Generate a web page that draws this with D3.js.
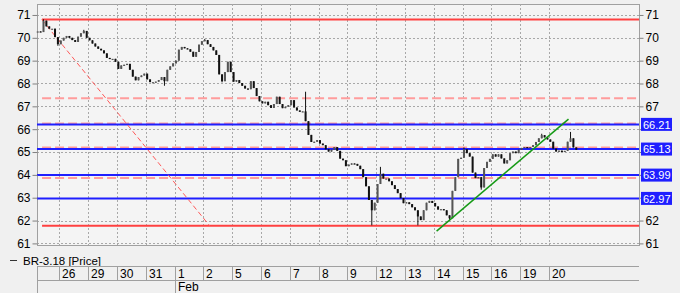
<!DOCTYPE html>
<html>
<head>
<meta charset="utf-8">
<script src="https://cdn.jsdelivr.net/npm/d3@7"></script>
<style>
  html, body { margin: 0; padding: 0; background: #f0f0f0; }
  svg { display: block; font-family: 'Liberation Sans', Arial, sans-serif; }
</style>
</head>
<body>
<div id="chart"></div>
<script>
// trading days shown on the axis, first one is only partly visible
const days = ['', '26', '29', '30', '31', '1', '2', '5', '6', '7', '8', '9', '12', '13', '14', '15', '16', '19', '20'];
const barsPerDay = [8, 10, 10, 10, 10, 10, 10, 10, 10, 10, 10, 10, 10, 10, 10, 10, 10, 10, 10];

// closing prices, one per intraday bar
const closes = [
  70.28, 70.25, 70.75, 70.5, 70.4, 70.4, 70.03, 69.72,
  69.88, 70.0, 70.08, 70.0, 69.9, 69.82, 70.05, 70.2, 70.3, 70.0,
  69.89, 69.75, 69.62, 69.52, 69.45, 69.32, 69.12, 69.08, 69.08, 68.95,
  68.64, 68.79, 68.82, 68.86, 68.6, 68.3, 68.14, 68.28, 68.35, 68.43,
  68.18, 68.06, 68.06, 68.08, 68.15, 68.28, 68.1, 68.6, 68.75, 68.88,
  69.0, 69.48, 69.6, 69.54, 69.5, 69.39, 69.17, 69.38, 69.7, 69.85,
  69.9, 69.72, 69.6, 69.45, 69.25, 68.4, 68.1, 68.5, 68.95, 68.5,
  68.08, 68.15, 68.02, 67.9, 67.78, 67.75, 68.1, 67.8, 67.45, 67.22,
  67.13, 67.2, 67.05, 66.93, 67.1, 67.42, 67.1, 66.92, 66.98, 67.05,
  67.27, 66.95, 66.82, 66.76, 66.78, 66.35, 65.75, 65.44, 65.45, 65.52,
  65.37, 65.3, 65.12, 65.02, 65.1, 65.22, 65.05, 64.71, 64.64, 64.38,
  64.45, 64.5, 64.48, 64.4, 64.25, 63.9, 63.5, 62.9, 62.45, 62.78,
  63.6, 64.05, 63.84, 63.84, 63.72, 63.55, 63.38, 63.2, 62.98, 62.76,
  62.8, 62.72, 62.58, 62.45, 62.18, 62.02, 62.45, 62.78, 62.86, 62.77,
  62.62, 62.48, 62.5, 62.45, 62.23, 62.1, 63.3, 63.9, 64.7, 64.75,
  65.12, 64.95, 64.8, 64.1, 63.86, 63.9, 63.45, 64.3, 64.57, 64.7,
  64.9, 64.8, 64.9, 64.72, 64.5, 64.64, 64.95, 65.02, 64.95, 65.1,
  65.18, 65.22, 65.18, 65.22, 65.3, 65.44, 65.6, 65.74, 65.64, 65.55,
  65.45, 65.15, 65.02, 65.06, 65.0, 65.05, 65.45, 65.6, 65.2, 65.1
];
// bars whose wicks reach beyond the body: [bar, high, low]
const wicks = [
  [2, 70.81, 70.28], [7, 70.03, 69.65], [16, 70.35, 70.2], [44, 68.28, 67.9],
  [58, 69.95, 69.85], [64, 68.4, 68.05], [93, 67.64, 66.35], [116, 62.9, 61.79],
  [119, 64.35, 63.6], [132, 62.45, 61.79], [143, 62.23, 62.0], [148, 65.2, 64.75],
  [154, 63.9, 63.35], [175, 65.8, 65.6], [185, 65.88, 65.45]
];

// support / resistance levels
const blueLevels = [66.21, 65.13, 63.99, 62.97];
const redLevels = [70.8, 61.77];
const pinkLevels = [67.35, 66.25, 65.2, 63.86];
// trend lines as [bar, price] pairs
const redTrend = [[1.9, 70.8], [60.2, 61.77]];
const greenTrend = [[139, 61.54], [184.8, 66.44]];
const yTicks = [61, 62, 63, 64, 65, 66, 67, 68, 69, 70, 71];
// right-hand labels that sit under a value tag are not printed
const rightTickLabels = [61, 62, 67, 68, 69, 70, 71];
const seriesName = 'BR-3.18 [Price]';
const monthLabel = 'Feb';

const width = 680;
const height = 293;
const plot = { left: 37, right: 639, top: 4, bottom: 245 };
const totalSlots = 209;
const fontSize = 11;

const svg = d3.select('#chart')
  .append('svg')
  .attr('width', width)
  .attr('height', height);

svg.append('rect')
  .attr('width', width).attr('height', height)
  .attr('fill', '#f0f0f0');

const x = d3.scaleLinear()
  .domain([0, totalSlots])
  .range([36.3, 638.2]);

const y = d3.scaleLinear()
  .domain([60.93, 71.48])
  .range([plot.bottom, plot.top]);

// plot background
svg.append('rect')
  .attr('x', plot.left + 0.5).attr('y', plot.top + 0.5)
  .attr('width', plot.right - plot.left).attr('height', plot.bottom - plot.top)
  .attr('fill', '#f4f4f4')
  .attr('stroke', '#a0a0a0');

// day boundaries
const dayStart = [];
let acc = 0;
barsPerDay.forEach(n => { dayStart.push(acc); acc += n; });

// grid
svg.append('g')
  .selectAll('line')
  .data(yTicks)
  .join('line')
    .attr('x1', plot.left).attr('x2', plot.right)
    .attr('y1', d => Math.round(y(d)) + 0.5).attr('y2', d => Math.round(y(d)) + 0.5)
    .attr('stroke', '#a8a8a8')
    .attr('stroke-dasharray', '2,2');

svg.append('g')
  .selectAll('line')
  .data(dayStart.slice(1))
  .join('line')
    .attr('x1', d => Math.round(x(d)) + 0.5).attr('x2', d => Math.round(x(d)) + 0.5)
    .attr('y1', plot.top).attr('y2', plot.bottom)
    .attr('stroke', '#a8a8a8')
    .attr('stroke-dasharray', '2,2');

// levels
const lines = svg.append('g');
lines.selectAll('.pink')
  .data(pinkLevels)
  .join('line')
    .attr('class', 'pink')
    .attr('x1', x(2)).attr('x2', plot.right)
    .attr('y1', d => y(d)).attr('y2', d => y(d))
    .attr('stroke', '#ff9c9c')
    .attr('stroke-width', 2)
    .attr('stroke-dasharray', '9,4');

lines.selectAll('.blue')
  .data(blueLevels)
  .join('line')
    .attr('class', 'blue')
    .attr('x1', plot.left).attr('x2', plot.right)
    .attr('y1', d => y(d)).attr('y2', d => y(d))
    .attr('stroke', '#1f1fff')
    .attr('stroke-width', 2);

lines.selectAll('.red')
  .data(redLevels)
  .join('line')
    .attr('class', 'red')
    .attr('x1', x(2)).attr('x2', plot.right)
    .attr('y1', d => y(d)).attr('y2', d => y(d))
    .attr('stroke', '#ff4040')
    .attr('stroke-width', 2);

lines.append('line')
  .attr('x1', x(redTrend[0][0])).attr('y1', y(redTrend[0][1]))
  .attr('x2', x(redTrend[1][0])).attr('y2', y(redTrend[1][1]))
  .attr('stroke', '#ff5a5a')
  .attr('stroke-dasharray', '5,3');

// candles
const bars = closes.map((c, i) => {
  const o = i === 0 ? c : closes[i - 1];
  const w = wicks.find(k => k[0] === i);
  return {
    i, o, c,
    h: w ? w[1] : Math.max(o, c),
    l: w ? w[2] : Math.min(o, c)
  };
});

const candles = svg.append('g');
candles.selectAll('line')
  .data(bars)
  .join('line')
    .attr('x1', d => x(d.i + 0.5)).attr('x2', d => x(d.i + 0.5))
    .attr('y1', d => y(d.h)).attr('y2', d => y(d.l))
    .attr('stroke', '#111');

candles.selectAll('rect')
  .data(bars)
  .join('rect')
    .attr('x', d => x(d.i + 0.5) - 1)
    .attr('y', d => y(Math.max(d.o, d.c)))
    .attr('width', 2)
    .attr('height', d => Math.max(1.2, Math.abs(y(d.o) - y(d.c))))
    .attr('fill', d => d.c >= d.o ? '#555' : '#111');

svg.append('line')
  .attr('x1', x(greenTrend[0][0])).attr('y1', y(greenTrend[0][1]))
  .attr('x2', x(greenTrend[1][0])).attr('y2', y(greenTrend[1][1]))
  .attr('stroke', '#159a15')
  .attr('stroke-width', 1.5);

// y axes
function leftAxis(g) {
  g.attr('transform', `translate(${plot.left + 0.5},0)`)
    .call(d3.axisLeft(y).tickValues(yTicks).tickSize(5).tickPadding(2).tickFormat(d3.format('d')))
    .call(g => g.select('.domain').remove())
    .attr('font-size', 12)
    .attr('font-family', null);
  g.selectAll('.tick line').attr('stroke', '#808080');
}
function rightAxis(g) {
  g.attr('transform', `translate(${plot.right + 0.5},0)`)
    .call(d3.axisRight(y).tickValues(yTicks).tickSize(4).tickPadding(2)
      .tickFormat(d => rightTickLabels.includes(d) ? d3.format('d')(d) : ''))
    .call(g => g.select('.domain').remove())
    .attr('font-size', 12)
    .attr('font-family', null);
  g.selectAll('.tick line').attr('stroke', '#808080');
}
svg.append('g').call(leftAxis);
svg.append('g').call(rightAxis);

// value tags on the right
const tags = svg.append('g')
  .selectAll('g')
  .data(blueLevels)
  .join('g')
    .attr('transform', d => `translate(641,${y(d)})`);
tags.append('rect')
  .attr('x', 0).attr('y', -6.5)
  .attr('width', 31).attr('height', 13)
  .attr('fill', '#1f1fff');
tags.append('text')
  .attr('x', 2).attr('y', 4.2)
  .attr('fill', '#fff')
  .attr('font-size', fontSize)
  .text(d => d.toFixed(2));

// legend
svg.append('line')
  .attr('x1', 10).attr('x2', 17)
  .attr('y1', 260.5).attr('y2', 260.5)
  .attr('stroke', '#333');
svg.append('text')
  .attr('x', 23).attr('y', 264.5)
  .attr('font-size', fontSize + 0.5)
  .attr('fill', '#000')
  .text(seriesName);

// date axis
const dateAxis = svg.append('g');
const rowTop = 266.5, rowMid = 280.5;
dateAxis.append('line')
  .attr('x1', plot.left).attr('x2', plot.right)
  .attr('y1', rowTop).attr('y2', rowTop)
  .attr('stroke', '#a0a0a0');
dateAxis.append('line')
  .attr('x1', plot.left).attr('x2', plot.right)
  .attr('y1', rowMid).attr('y2', rowMid)
  .attr('stroke', '#a0a0a0');
dateAxis.append('line')
  .attr('x1', plot.left + 0.5).attr('x2', plot.left + 0.5)
  .attr('y1', rowTop).attr('y2', height)
  .attr('stroke', '#a0a0a0');
dateAxis.selectAll('.sep')
  .data(dayStart.slice(1))
  .join('line')
    .attr('class', 'sep')
    .attr('x1', d => Math.round(x(d)) + 0.5).attr('x2', d => Math.round(x(d)) + 0.5)
    .attr('y1', rowTop).attr('y2', (d, i) => days[i + 1] === '1' ? height : rowMid)
    .attr('stroke', '#a0a0a0');
dateAxis.selectAll('text')
  .data(days)
  .join('text')
    .attr('x', (d, i) => Math.round(x(dayStart[i])) + 3)
    .attr('y', 278)
    .attr('font-size', 12)
    .text(d => d);
dateAxis.append('text')
  .attr('x', Math.round(x(dayStart[days.indexOf('1')])) + 3)
  .attr('y', 291)
  .attr('font-size', 12)
  .text(monthLabel);
</script>
</body>
</html>
